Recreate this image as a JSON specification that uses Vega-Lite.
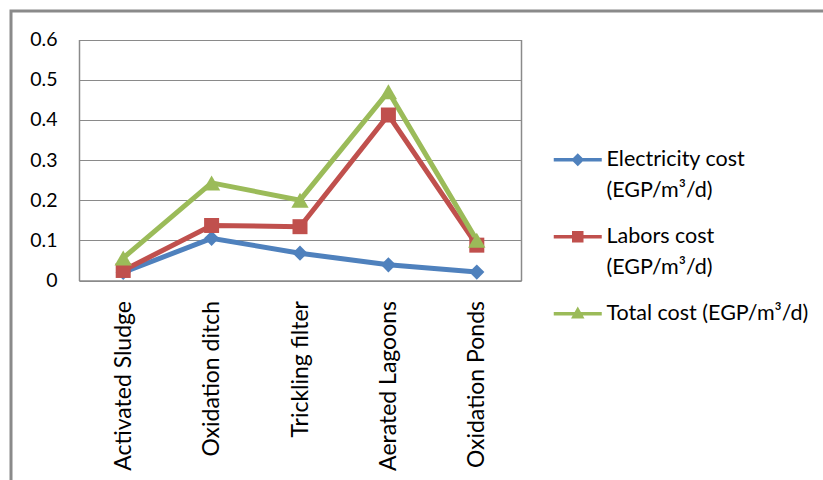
{
  "$schema": "https://vega.github.io/schema/vega-lite/v6.json",
  "width": 823,
  "height": 480,
  "autosize": {"type": "none"},
  "padding": {"left": 11, "top": 11, "right": 0, "bottom": 0},
  "background": "white",
  "config": {
    "font": "Lato",
    "view": {"stroke": "#8a8a8a", "strokeWidth": 3}
  },
  "data": {
    "values": [
      {"process": "Activated Sludge", "series": "Electricity cost (EGP/m³/d)", "cost": 0.02},
      {"process": "Oxidation ditch", "series": "Electricity cost (EGP/m³/d)", "cost": 0.105},
      {"process": "Trickling filter", "series": "Electricity cost (EGP/m³/d)", "cost": 0.068},
      {"process": "Aerated Lagoons", "series": "Electricity cost (EGP/m³/d)", "cost": 0.039},
      {"process": "Oxidation Ponds", "series": "Electricity cost (EGP/m³/d)", "cost": 0.021},
      {"process": "Activated Sludge", "series": "Labors cost (EGP/m³/d)", "cost": 0.025},
      {"process": "Oxidation ditch", "series": "Labors cost (EGP/m³/d)", "cost": 0.137},
      {"process": "Trickling filter", "series": "Labors cost (EGP/m³/d)", "cost": 0.134},
      {"process": "Aerated Lagoons", "series": "Labors cost (EGP/m³/d)", "cost": 0.412},
      {"process": "Oxidation Ponds", "series": "Labors cost (EGP/m³/d)", "cost": 0.088},
      {"process": "Activated Sludge", "series": "Total cost (EGP/m³/d)", "cost": 0.056},
      {"process": "Oxidation ditch", "series": "Total cost (EGP/m³/d)", "cost": 0.243},
      {"process": "Trickling filter", "series": "Total cost (EGP/m³/d)", "cost": 0.2},
      {"process": "Aerated Lagoons", "series": "Total cost (EGP/m³/d)", "cost": 0.47},
      {"process": "Oxidation Ponds", "series": "Total cost (EGP/m³/d)", "cost": 0.1}
    ]
  },
  "encoding": {
    "x": {
      "field": "process",
      "type": "nominal",
      "sort": ["Activated Sludge", "Oxidation ditch", "Trickling filter", "Aerated Lagoons", "Oxidation Ponds"],
      "scale": {"range": [68, 510], "padding": 0.5},
      "axis": {
        "title": null,
        "orient": "bottom",
        "offset": -210.5,
        "labelAngle": 270,
        "labelFont": "Lato",
        "labelFontSize": 23,
        "labelColor": "#000000",
        "labelPadding": 20,
        "labelLimit": 300,
        "ticks": false,
        "tickSize": 0,
        "grid": false,
        "domainColor": "#8a8a8a",
        "domainWidth": 1.5
      }
    },
    "y": {
      "field": "cost",
      "type": "quantitative",
      "scale": {"domain": [0, 0.6], "range": [269.5, 28.5], "nice": false}
    }
  },
  "layer": [
    {
      "mark": {"type": "line", "strokeWidth": 5},
      "encoding": {
        "y": {
          "field": "cost",
          "type": "quantitative",
          "axis": {
            "title": null,
            "orient": "left",
            "offset": -68,
            "values": [0, 0.1, 0.2, 0.3, 0.4, 0.5, 0.6],
            "format": "~g",
            "labelFont": "Lato",
            "labelFontSize": 19.5,
            "labelColor": "#000000",
            "labelPadding": 22,
            "ticks": false,
            "tickSize": 0,
            "grid": true,
            "gridColor": "#8a8a8a",
            "gridWidth": 1.2,
            "domainColor": "#8a8a8a",
            "domainWidth": 1.5
          }
        },
        "color": {
          "field": "series",
          "type": "nominal",
          "scale": {
            "domain": ["Electricity cost (EGP/m³/d)", "Labors cost (EGP/m³/d)", "Total cost (EGP/m³/d)"],
            "range": ["#4f81bd", "#c0504d", "#9bbb59"]
          },
          "legend": {
            "title": null,
            "orient": "none",
            "legendX": 556,
            "legendY": 138,
            "symbolSize": 100,
            "labelFont": "Lato",
            "labelFontSize": 21.5,
            "labelColor": "#000000",
            "labelOffset": 18,
            "labelLimit": 300,
            "rowPadding": 23,
            "labelExpr": "indexof(datum.label, 'Total') == 0 ? datum.label : [slice(datum.label, 0, indexof(datum.label, ' (')), slice(datum.label, indexof(datum.label, ' (') + 1)]",
            "encode": {
              "symbols": {
                "update": {
                  "shape": {"signal": "datum.value == 'Electricity cost (EGP/m³/d)' ? 'M-4.8,-0.35H4.8V0.35H-4.8Z M0,-1.3L1.3,0L0,1.3L-1.3,0Z' : datum.value == 'Labors cost (EGP/m³/d)' ? 'M-4.8,-0.35H4.8V0.35H-4.8Z M-1.15,-1.15H1.15V1.15H-1.15Z' : 'M-4.8,-0.35H4.8V0.35H-4.8Z M0,-1.45L1.35,0.95L-1.35,0.95Z'"},
                  "fill": {"scale": "color", "field": "value"},
                  "stroke": {"value": "transparent"},
                  "strokeWidth": {"value": 0},
                  "opacity": {"value": 1}
                }
              },
              "labels": {
                "update": {
                  "lineHeight": {"value": 31}
                }
              }
            }
          }
        }
      }
    },
    {
      "transform": [{"filter": "datum.series == 'Electricity cost (EGP/m³/d)'"}],
      "mark": {"type": "point", "shape": "diamond", "filled": true, "opacity": 1, "size": 230},
      "encoding": {
        "y": {
          "field": "cost",
          "type": "quantitative",
          "axis": {
            "title": null,
            "orient": "right",
            "offset": -313,
            "labels": false,
            "ticks": false,
            "tickSize": 0,
            "grid": false,
            "domainColor": "#8a8a8a",
            "domainWidth": 1.5
          }
        },
        "color": {"field": "series", "type": "nominal", "legend": null}
      }
    },
    {
      "transform": [{"filter": "datum.series == 'Labors cost (EGP/m³/d)'"}],
      "mark": {"type": "point", "shape": "square", "filled": true, "opacity": 1, "size": 225},
      "encoding": {
        "y": {"field": "cost", "type": "quantitative", "axis": null},
        "color": {"field": "series", "type": "nominal", "legend": null}
      }
    },
    {
      "transform": [{"filter": "datum.series == 'Total cost (EGP/m³/d)'"}],
      "mark": {"type": "point", "shape": "triangle-up", "filled": true, "opacity": 1, "size": 300},
      "encoding": {
        "y": {"field": "cost", "type": "quantitative", "axis": null},
        "color": {"field": "series", "type": "nominal", "legend": null}
      }
    }
  ],
  "resolve": {"axis": {"y": "independent"}}
}
